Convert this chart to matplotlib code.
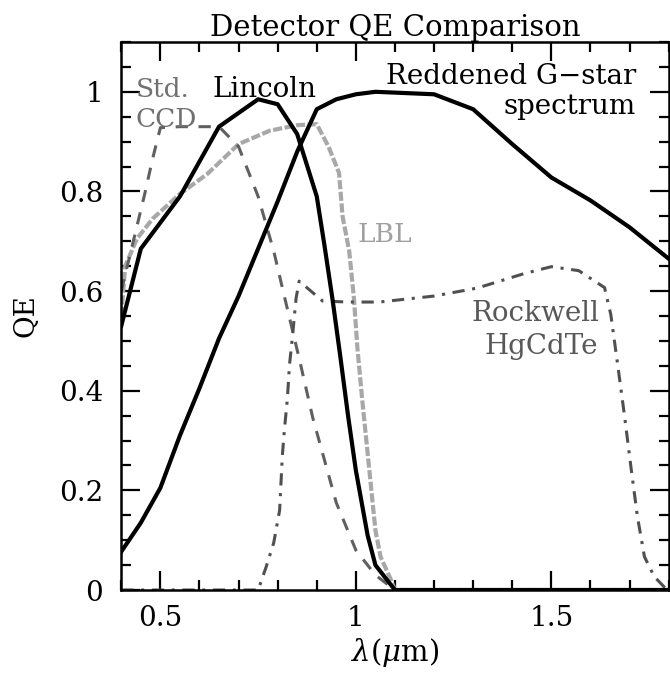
import matplotlib
matplotlib.use("Agg")
import matplotlib.pyplot as plt
from matplotlib.ticker import MultipleLocator

plt.rcParams['font.family'] = ['DejaVu Serif']
plt.rcParams['mathtext.fontset'] = 'dejavuserif'

# reddened G-star spectrum (normalised)
gstar_x = [0.40, 0.45, 0.50, 0.55, 0.60, 0.65, 0.70, 0.75, 0.80, 0.85, 0.90, 0.95,
           1.00, 1.05, 1.20, 1.30, 1.40, 1.50, 1.60, 1.70, 1.80]
gstar_y = [0.077, 0.135, 0.205, 0.31, 0.405, 0.505, 0.59, 0.685, 0.78, 0.88, 0.965, 0.985,
           0.995, 1.0, 0.995, 0.965, 0.895, 0.828, 0.782, 0.728, 0.665]

# Lincoln CCD
lincoln_x = [0.40, 0.45, 0.55, 0.65, 0.75, 0.80, 0.85, 0.90, 0.92, 0.94, 0.96, 0.98,
             1.00, 1.03, 1.05, 1.10, 1.80]
lincoln_y = [0.53, 0.685, 0.79, 0.93, 0.985, 0.975, 0.915, 0.79, 0.69, 0.585, 0.47, 0.35,
             0.24, 0.11, 0.05, 0.0, 0.0]

# standard CCD
ccd_x = [0.40, 0.42, 0.44, 0.46, 0.48, 0.50, 0.55, 0.65, 0.70, 0.75, 0.79, 0.82, 0.855,
         0.89, 0.95, 1.00, 1.05, 1.10, 1.80]
ccd_y = [0.60, 0.665, 0.73, 0.795, 0.865, 0.928, 0.93, 0.93, 0.89, 0.79, 0.68, 0.58, 0.465,
         0.345, 0.175, 0.08, 0.03, 0.0, 0.0]

# LBL high-resistivity CCD
lbl_x = [0.40, 0.41, 0.44, 0.48, 0.55, 0.62, 0.70, 0.78, 0.85, 0.90, 0.93, 0.957, 0.966,
         0.983, 0.995, 1.004, 1.016, 1.029, 1.042, 1.05, 1.063, 1.09, 1.10, 1.80]
lbl_y = [0.55, 0.65, 0.705, 0.745, 0.795, 0.835, 0.895, 0.922, 0.933, 0.935, 0.89, 0.837, 0.75,
         0.68, 0.586, 0.485, 0.384, 0.283, 0.182, 0.12, 0.067, 0.02, 0.0, 0.0]

# Rockwell HgCdTe
rock_x = [0.40, 0.75, 0.77, 0.79, 0.805, 0.812, 0.817, 0.825, 0.83, 0.838, 0.847, 0.855,
          0.885, 0.915, 0.98, 1.06, 1.20, 1.31, 1.43, 1.50, 1.57, 1.636, 1.652, 1.67,
          1.687, 1.703, 1.72, 1.738, 1.763, 1.79, 1.80]
rock_y = [0.0, 0.0, 0.045, 0.095, 0.16, 0.27, 0.32, 0.385, 0.45, 0.51, 0.585, 0.62,
          0.60, 0.58, 0.578, 0.578, 0.59, 0.606, 0.635, 0.649, 0.641, 0.607, 0.553, 0.45,
          0.35, 0.25, 0.148, 0.067, 0.027, 0.005, 0.0]

fig = plt.figure(figsize=(6.70, 6.77), dpi=100)
ax = fig.add_axes([0.181, 0.1285, 0.817, 0.8095])

ax.plot(lbl_x, lbl_y, color='#a8a8a8', lw=3, ls=(0, (2.2, 0.6)))
ax.plot(ccd_x, ccd_y, color='#606060', lw=2.2, ls=(0, (4, 3.5)))
ax.plot(rock_x, rock_y, color='#505050', lw=2.2, ls=(0, (4, 2.5, 1, 2.5)))
ax.plot(lincoln_x, lincoln_y, color='black', lw=3)
ax.plot(gstar_x, gstar_y, color='black', lw=3)

ax.text(0.436, 0.99, 'Std.', color='#707070', fontsize=19)
ax.text(0.436, 0.93, 'CCD', color='#707070', fontsize=19)
ax.text(0.634, 0.99, 'Lincoln', color='black', fontsize=20)
ax.text(1.716, 1.016, 'Reddened G\u2212star', color='black', fontsize=20, ha='right')
ax.text(1.716, 0.956, 'spectrum', color='black', fontsize=20, ha='right')
ax.text(1.003, 0.699, 'LBL', color='#a0a0a0', fontsize=19)
ax.text(1.622, 0.539, 'Rockwell', color='#585858', fontsize=20, ha='right')
ax.text(1.62, 0.474, 'HgCdTe', color='#585858', fontsize=20, ha='right')

ax.set_xlim(0.4, 1.8)
ax.set_ylim(0, 1.1)
ax.xaxis.set_major_locator(MultipleLocator(0.5))
ax.xaxis.set_minor_locator(MultipleLocator(0.1))
ax.yaxis.set_major_locator(MultipleLocator(0.2))
ax.yaxis.set_minor_locator(MultipleLocator(0.05))
ax.xaxis.set_major_formatter(lambda v, p: ('%g' % v))
ax.yaxis.set_major_formatter(lambda v, p: ('%g' % v))
ax.tick_params(which='both', direction='in', top=True, right=True, width=1.6, labelsize=20)
ax.tick_params(which='major', length=14)
ax.tick_params(which='minor', length=7)
ax.tick_params(axis='x', which='major', pad=11)
ax.tick_params(axis='y', which='major', pad=13)
for s in ax.spines.values():
    s.set_linewidth(1.8)

ax.set_title('Detector QE Comparison', fontsize=21, pad=3)
ax.set_xlabel(r'$\lambda(\mu$m$)$', fontsize=21, labelpad=3)
ax.set_ylabel('QE', fontsize=20, labelpad=14)

fig.savefig('out.png', dpi=100)
